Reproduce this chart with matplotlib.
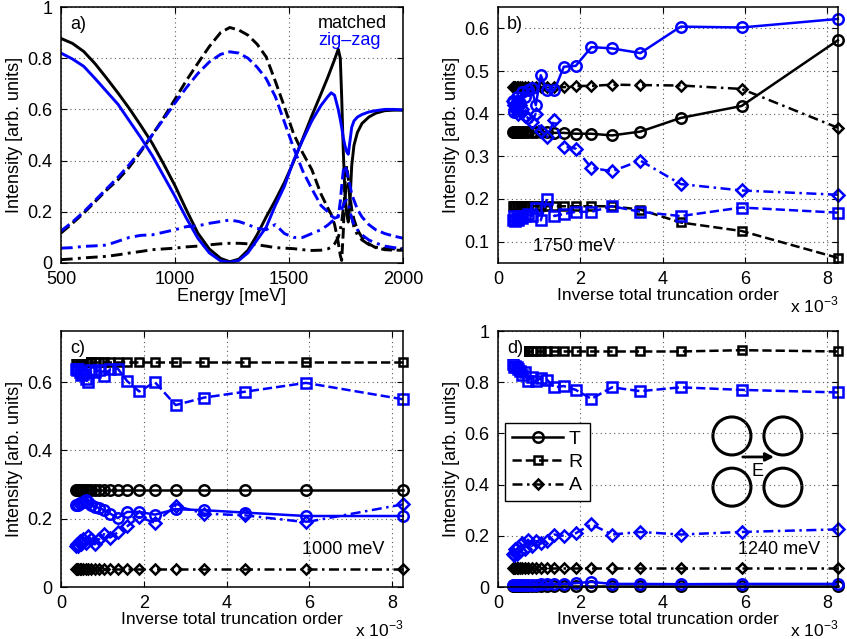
import matplotlib
matplotlib.use('Agg')
import matplotlib.pyplot as plt
from matplotlib.patches import Ellipse
from matplotlib.lines import Line2D

plt.rcParams['font.family'] = ['Liberation Sans', 'DejaVu Sans']
plt.rcParams['mathtext.fontset'] = 'custom'
plt.rcParams['mathtext.rm'] = 'Liberation Sans'
plt.rcParams['font.size'] = 13

BLUE = '#0000ff'

# ---- panel a: spectra ----
energy = [500, 550, 600, 650, 700, 750, 800, 850, 900, 950, 1000, 1050, 1100,
          1150, 1200, 1240, 1280, 1320, 1360, 1400, 1440, 1480, 1520, 1560,
          1600, 1640, 1670, 1685, 1700, 1716, 1725, 1731, 1738, 1745, 1753,
          1760, 1768, 1775, 1785, 1800, 1820, 1850, 1880, 1920, 1960, 2000]

T_matched = [.877, .858, .826, .778, .722, .664, .603, .537, .468, .387, .302, .207, .117,
             .055, .018, .005, .015, .05, .11, .18, .245, .315, .395, .485,
             .575, .66, .725, .76, .795, .835, .80, .65, .44, .28, .19,
             .16, .25, .38, .46, .51, .545, .57, .585, .595, .597, .597]
R_matched = [.117, .155, .195, .24, .285, .325, .375, .435, .50, .567, .64, .713, .78,
             .845, .90, .92, .91, .89, .855, .805, .71, .61, .505, .43,
             .365, .27, .215, .19, .15, .08, .03, .01, .12, .30, .38,
             .33, .26, .21, .17, .13, .10, .075, .06, .052, .05, .05]
A_matched = [.013, .016, .02, .023, .026, .032, .039, .045, .052, .055, .058, .063, .066,
             .071, .075, .077, .077, .075, .071, .066, .06, .058, .056, .052,
             .049, .05, .055, .062, .075, .10, .13, .16, .21, .26, .30,
             .32, .24, .18, .14, .11, .09, .072, .062, .057, .055, .055]

T_zigzag = [.82, .797, .768, .72, .67, .62, .555, .49, .42, .34, .26, .175, .097,
            .04, .008, .003, .01, .04, .09, .14, .225, .30, .40, .48,
            .555, .615, .65, .665, .655, .60, .56, .53, .49, .46, .435,
            .425, .48, .53, .555, .57, .58, .59, .595, .60, .60, .598]
R_zigzag = [.125, .16, .20, .245, .29, .335, .385, .44, .50, .562, .625, .685, .74,
            .785, .815, .825, .82, .80, .765, .72, .65, .55, .45, .36,
            .29, .225, .20, .185, .175, .18, .24, .30, .36, .38, .36,
            .33, .30, .27, .245, .21, .18, .15, .13, .115, .105, .097]
A_zigzag = [.058, .06, .065, .067, .07, .085, .10, .108, .11, .12, .13, .142, .145,
            .155, .162, .168, .162, .15, .135, .13, .15, .115, .10, .10,
            .115, .13, .148, .16, .17, .185, .20, .21, .225, .24, .245,
            .235, .20, .175, .15, .13, .11, .09, .078, .066, .06, .057]

# ---- panels b-d: convergence, x in units of 1e-3 ----
inv_order = [8.26, 5.92, 4.44, 3.46, 2.77, 2.27, 1.89, 1.60, 1.37, 1.19, 1.04,
             0.918, 0.816, 0.730, 0.657, 0.595, 0.541, 0.494, 0.453, 0.416, 0.384, 0.356]

b_T_m = [.572, .418, .39, .358, .349, .353, .353, .355, .355, .356, .357,
         .357, .357, .357, .357, .357, .357, .357, .357, .357, .357, .357]
b_R_m = [.062, .125, .145, .175, .183, .183, .183, .183, .183, .183, .183,
         .183, .183, .183, .183, .183, .183, .183, .183, .183, .183, .183]
b_A_m = [.367, .458, .466, .467, .468, .465, .465, .462, .462, .462, .462,
         .462, .462, .462, .462, .462, .462, .462, .462, .462, .462, .462]
b_T_z = [.622, .602, .604, .542, .553, .556, .512, .51, .455, .455, .49,
         .42, .46, .455, .44, .45, .425, .43, .44, .415, .405, .43]
b_R_z = [.168, .18, .16, .17, .183, .17, .17, .165, .16, .20, .15,
         .18, .16, .165, .16, .155, .16, .15, .155, .148, .16, .15]
b_A_z = [.21, .22, .235, .29, .265, .273, .318, .323, .385, .345, .36,
         .40, .38, .39, .395, .41, .42, .40, .42, .41, .42, .43]

c_T_m = [.285] * 22
c_R_m = [.66] * 22
c_A_m = [.053] * 22
c_T_z = [.208, .208, .218, .225, .228, .212, .22, .22, .202, .215, .225,
         .232, .235, .24, .25, .255, .25, .245, .245, .24, .24, .24]
c_R_z = [.55, .598, .572, .555, .533, .60, .573, .603, .64, .638, .617,
         .635, .63, .635, .60, .61, .625, .62, .63, .64, .635, .64]
c_A_z = [.242, .19, .21, .215, .238, .188, .205, .178, .16, .145, .155,
         .14, .125, .14, .15, .13, .14, .125, .135, .12, .125, .12]

d_T_m = [.002] * 22
d_R_m = [.92, .925, .92, .92, .92, .92, .92, .92, .92, .92, .92,
         .92, .92, .92, .92, .92, .92, .92, .92, .92, .92, .92]
d_A_m = [.075] * 22
d_T_z = [.012, .012, .011, .012, .012, .02, .015, .012, .012, .01, .01,
         .009, .009, .009, .008, .008, .008, .008, .008, .008, .008, .008]
d_R_z = [.76, .77, .78, .765, .78, .735, .77, .785, .78, .81, .815,
         .805, .82, .805, .84, .83, .845, .85, .86, .865, .86, .87]
d_A_z = [.225, .215, .205, .215, .205, .245, .21, .20, .205, .18, .17,
         .18, .16, .185, .15, .17, .14, .155, .13, .15, .125, .13]

DASHDOT = (0, (4, 1.8, 1, 1.8))

W, H = 847, 639


def make_axes(fig, left, right, top, bottom):
    return fig.add_axes([left / W, 1 - bottom / H, (right - left) / W, (bottom - top) / H])


def style_axes(ax, yticks, ylabels):
    ax.set_yticks(yticks)
    ax.set_yticklabels(ylabels)
    ax.grid(True, color='0.35', linestyle=(0, (1, 3)), linewidth=0.8)
    ax.tick_params(direction='in', top=True, right=True, length=4, width=0.8, pad=6)
    for s in ax.spines.values():
        s.set_linewidth(1.1)
    ax.set_ylabel('Intensity [arb. units]', labelpad=3)


def tag_text(ax, tag):
    ax.text(0.026, 0.93, tag, transform=ax.transAxes, va='center', zorder=10,
            bbox=dict(facecolor='white', edgecolor='none', pad=1.0))


def conv_panel(ax, data, tag, energy_label, lx, ly):
    T_m, R_m, A_m, T_z, R_z, A_z = data
    kw = dict(lw=1.8, mew=1.8, mfc='none', clip_on=False)
    ax.plot(inv_order, T_m, '-', color='k', marker='o', ms=7.5, **kw)
    ax.plot(inv_order, R_m, '--', color='k', marker='s', ms=5.5, **kw)
    ax.plot(inv_order, A_m, color='k', ls=DASHDOT, marker='D', ms=5.5, **kw)
    ax.plot(inv_order, T_z, '-', color=BLUE, marker='o', ms=7.5, **kw)
    ax.plot(inv_order, R_z, '--', color=BLUE, marker='s', ms=6.5, **kw)
    ax.plot(inv_order, A_z, color=BLUE, ls=DASHDOT, marker='D', ms=6, **kw)
    ax.set_xlim(0, 8.264)
    ax.set_xticks([0, 2, 4, 6, 8])
    ax.set_xticklabels(['0', '2', '4', '6', '8'])
    ax.set_xlabel('Inverse total truncation order', labelpad=0, fontsize=12.5)
    ax.text(1.0, -0.165, r'x 10$^{-3}$', transform=ax.transAxes,
            ha='right', va='center', fontsize=12.5)
    tag_text(ax, tag)
    ax.text(lx, ly, energy_label, transform=ax.transAxes, va='center')


def main():
    fig = plt.figure(figsize=(W / 100, H / 100), dpi=100)

    # a) spectra
    ax = make_axes(fig, 61, 403, 7, 263)
    ax.plot(energy, T_matched, '-', color='k', lw=2.1)
    ax.plot(energy, R_matched, '--', color='k', lw=2.1)
    ax.plot(energy, A_matched, color='k', lw=2.1, ls=DASHDOT)
    ax.plot(energy, T_zigzag, '-', color=BLUE, lw=2.1)
    ax.plot(energy, R_zigzag, '--', color=BLUE, lw=2.1)
    ax.plot(energy, A_zigzag, color=BLUE, lw=2.1, ls=DASHDOT)
    ax.set_xlim(500, 2000)
    ax.set_ylim(0, 1)
    ax.set_xticks([500, 1000, 1500, 2000])
    style_axes(ax, [0, 0.2, 0.4, 0.6, 0.8, 1], ['0', '0.2', '0.4', '0.6', '0.8', '1'])
    ax.set_xlabel('Energy [meV]', labelpad=0)
    tag_text(ax, 'a)')
    ax.text(0.751, 0.9375, 'matched', transform=ax.transAxes, va='center', color='k')
    ax.text(0.751, 0.871, 'zig\u2013zag', transform=ax.transAxes, va='center', color=BLUE)

    # b) 1750 meV
    ax = make_axes(fig, 498, 838, 7, 263)
    conv_panel(ax, (b_T_m, b_R_m, b_A_m, b_T_z, b_R_z, b_A_z), 'b)', '1750 meV', 0.103, 0.0625)
    ax.set_ylim(0.05, 0.65)
    style_axes(ax, [0.1, 0.2, 0.3, 0.4, 0.5, 0.6], ['0.1', '0.2', '0.3', '0.4', '0.5', '0.6'])

    # c) 1000 meV
    ax = make_axes(fig, 61, 403, 331, 587)
    conv_panel(ax, (c_T_m, c_R_m, c_A_m, c_T_z, c_R_z, c_A_z), 'c)', '1000 meV', 0.705, 0.145)
    ax.set_ylim(0, 0.75)
    style_axes(ax, [0, 0.2, 0.4, 0.6], ['0', '0.2', '0.4', '0.6'])

    # d) 1240 meV
    ax = make_axes(fig, 498, 838, 331, 587)
    conv_panel(ax, (d_T_m, d_R_m, d_A_m, d_T_z, d_R_z, d_A_z), 'd)', '1240 meV', 0.706, 0.145)
    ax.set_ylim(0, 1)
    style_axes(ax, [0, 0.2, 0.4, 0.6, 0.8, 1], ['0', '0.2', '0.4', '0.6', '0.8', '1'])

    lkw = dict(color='k', mfc='none', lw=1.8, mew=1.8)
    handles = [Line2D([], [], ls='-', marker='o', ms=7.5, **lkw),
               Line2D([], [], ls='--', marker='s', ms=5.5, **lkw),
               Line2D([], [], ls=DASHDOT, marker='D', ms=5.5, **lkw)]
    leg = ax.legend(handles, ['T', 'R', 'A'], loc='upper left', bbox_to_anchor=(0.022, 0.64),
                    borderaxespad=0, numpoints=1, handlelength=2.6, handletextpad=0.3,
                    borderpad=0.35, labelspacing=0.3, fancybox=False, framealpha=1,
                    edgecolor='k', fontsize=14)
    leg.get_frame().set_linewidth(1.0)

    # sketch of the four-rod unit cell
    for cx, cy in [(0.688, 0.59), (0.838, 0.59), (0.688, 0.39), (0.838, 0.39)]:
        ax.add_patch(Ellipse((cx, cy), 38 / 340, 38 / 256, transform=ax.transAxes,
                             fill=False, lw=2.2, color='k'))
    ax.annotate('', xy=(0.812, 0.508), xytext=(0.72, 0.508), xycoords='axes fraction',
                arrowprops=dict(arrowstyle='-|>', lw=2, color='k', mutation_scale=12,
                                shrinkA=0, shrinkB=0))
    ax.text(0.762, 0.452, 'E', transform=ax.transAxes, ha='center', va='center')

    fig.savefig('out.png', dpi=100)


if __name__ == '__main__':
    main()
